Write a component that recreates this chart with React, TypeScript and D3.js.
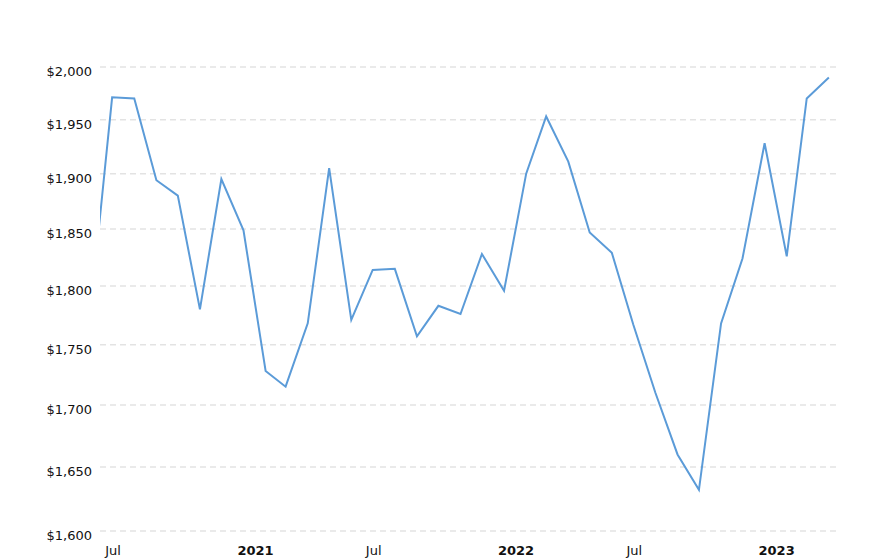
import React from 'react';
import * as d3 from 'd3';

// month-end closing price, plotted at the start of each month
const months = [
  '2020-06', '2020-07', '2020-08', '2020-09', '2020-10', '2020-11', '2020-12',
  '2021-01', '2021-02', '2021-03', '2021-04', '2021-05', '2021-06',
  '2021-07', '2021-08', '2021-09', '2021-10', '2021-11', '2021-12',
  '2022-01', '2022-02', '2022-03', '2022-04', '2022-05', '2022-06',
  '2022-07', '2022-08', '2022-09', '2022-10', '2022-11', '2022-12',
  '2023-01', '2023-02', '2023-03', '2023-04',
];

const prices = [
  1781, 1971, 1970, 1894, 1880, 1780, 1895,
  1849, 1728, 1715, 1768, 1905, 1771,
  1814, 1815, 1757, 1783, 1776, 1828,
  1796, 1900, 1953, 1911, 1847, 1829,
  1767, 1710, 1660, 1632, 1768, 1824,
  1928, 1826, 1970, 1990,
];

const yTicks = [1600, 1650, 1700, 1750, 1800, 1850, 1900, 1950, 2000];

const xTicks = [
  { date: '2020-07-01', label: 'Jul', year: false },
  { date: '2021-01-01', label: '2021', year: true },
  { date: '2021-07-01', label: 'Jul', year: false },
  { date: '2022-01-01', label: '2022', year: true },
  { date: '2022-07-01', label: 'Jul', year: false },
  { date: '2023-01-01', label: '2023', year: true },
];

const width = 888;
const height = 560;
const plot = { left: 100, right: 836, top: 67, bottom: 531 };
const lineColor = '#5b9bd8';
const font = 'Verdana, "DejaVu Sans", sans-serif';

const parse = d3.utcParse('%Y-%m-%d');

const App: React.FC = () => {
  const data = months.map((m, i) => ({ date: parse(m + '-01')!, value: prices[i] }));

  const x = d3.scaleUtc()
    .domain([parse('2020-06-14')!, parse('2023-04-11')!])
    .range([plot.left, plot.right]);

  const y = d3.scaleLog()
    .domain([1600, 2000])
    .range([plot.bottom, plot.top]);

  const line = d3.line<{ date: Date; value: number }>()
    .x((d) => x(d.date))
    .y((d) => y(d.value));

  const fmt = d3.format(',');

  return (
    <svg
      width={width}
      height={height}
      style={{ position: 'absolute', left: 0, top: 0, display: 'block', background: '#fff' }}
      fontFamily={font}
    >
      <defs>
        <clipPath id="plot-clip">
          <rect x={plot.left} y={0} width={plot.right - plot.left} height={height} />
        </clipPath>
      </defs>

      {/* Grid + y labels */}
      {yTicks.map((t) => (
        <g key={t}>
          <line
            x1={plot.left}
            x2={plot.right}
            y1={y(t)}
            y2={y(t)}
            stroke="#e3e3e3"
            strokeWidth={1.5}
            strokeDasharray="6,4"
          />
          <text x={92} y={y(t) + 9} textAnchor="end" fontSize={13} fill="#111">
            ${fmt(t)}
          </text>
        </g>
      ))}

      {/* x labels */}
      {xTicks.map((t) => (
        <text
          key={t.date}
          x={x(parse(t.date)!) + (t.year ? 12 : 1)}
          y={555}
          textAnchor="middle"
          fontSize={13}
          fontWeight={t.year ? 'bold' : 'normal'}
          fill="#111"
        >
          {t.label}
        </text>
      ))}

      <path
        d={line(data) ?? ''}
        fill="none"
        stroke={lineColor}
        strokeWidth={2}
        strokeLinejoin="miter"
        clipPath="url(#plot-clip)"
      />
    </svg>
  );
};

export default App;
